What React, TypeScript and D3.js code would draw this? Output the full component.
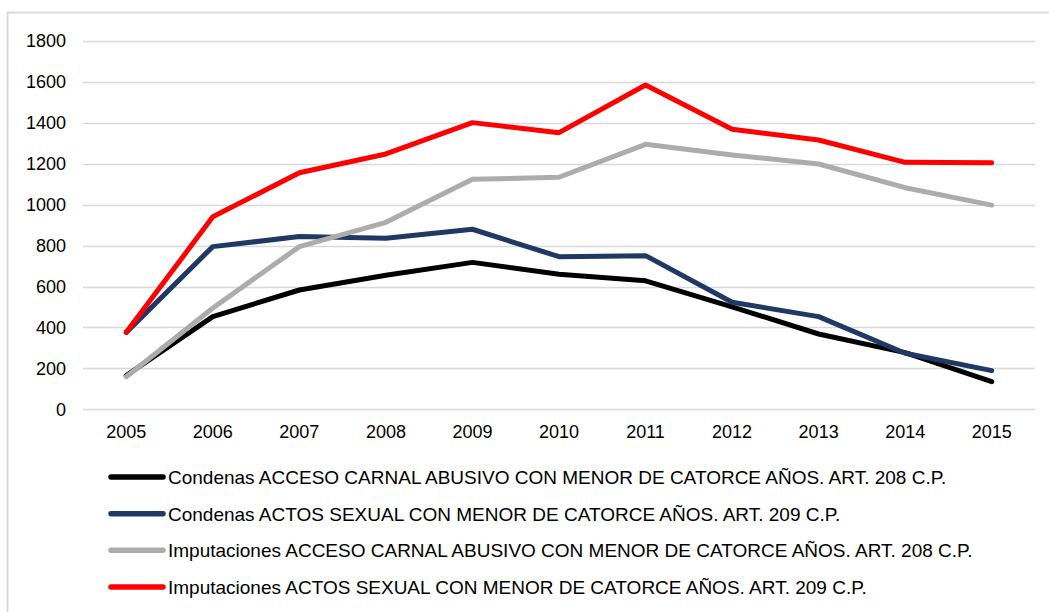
import React, { useEffect, useRef } from 'react';
import * as d3 from 'd3';

const years = ['2005', '2006', '2007', '2008', '2009', '2010', '2011', '2012', '2013', '2014', '2015'];
const yTicks = [0, 200, 400, 600, 800, 1000, 1200, 1400, 1600, 1800];

const condenas208 = [165, 453, 583, 655, 718, 660, 628, 501, 368, 277, 135];
const condenas209 = [376, 795, 844, 836, 880, 746, 751, 523, 453, 274, 189];
const imputaciones208 = [159, 495, 795, 914, 1124, 1134, 1295, 1243, 1199, 1083, 998];
const imputaciones209 = [376, 941, 1156, 1248, 1401, 1352, 1585, 1369, 1316, 1207, 1205];

const seriesNames = [
  'Condenas ACCESO CARNAL ABUSIVO CON MENOR DE CATORCE AÑOS. ART. 208 C.P.',
  'Condenas ACTOS SEXUAL CON MENOR DE CATORCE AÑOS. ART. 209 C.P.',
  'Imputaciones ACCESO CARNAL ABUSIVO CON MENOR DE CATORCE AÑOS. ART. 208 C.P.',
  'Imputaciones ACTOS SEXUAL CON MENOR DE CATORCE AÑOS. ART. 209 C.P.',
];
const seriesColors = ['#000000', '#203864', '#aeabab', '#ff0000'];

export default function App() {
  const ref = useRef<SVGSVGElement>(null);

  useEffect(() => {
    const svg = d3.select(ref.current);
    svg.selectAll('*').remove();
    const width = 1049;
    const height = 612;
    const font = '"Liberation Sans", Arial, sans-serif';

    // chart frame (runs off the right and bottom edge)
    svg
      .append('rect')
      .attr('x', 7.5)
      .attr('y', 12.5)
      .attr('width', width)
      .attr('height', height)
      .attr('fill', 'none')
      .attr('stroke', '#d9d9d9')
      .attr('stroke-width', 2);

    const x = d3.scaleBand().domain(years).range([83, 1035]);
    const y = d3.scaleLinear().domain([0, 1800]).range([409.3, 41]);

    // gridlines
    svg
      .append('g')
      .selectAll('line')
      .data(yTicks)
      .join('line')
      .attr('x1', 83)
      .attr('x2', 1035)
      .attr('y1', (d) => Math.round(y(d)) + 0.5)
      .attr('y2', (d) => Math.round(y(d)) + 0.5)
      .attr('stroke', '#d9d9d9')
      .attr('stroke-width', 1.5);

    // y labels
    svg
      .append('g')
      .selectAll('text')
      .data(yTicks)
      .join('text')
      .attr('x', 66)
      .attr('y', (d) => y(d))
      .attr('dy', '0.36em')
      .attr('text-anchor', 'end')
      .attr('font-family', font)
      .attr('font-size', 18)
      .attr('fill', '#000')
      .text((d) => d);

    // x labels
    svg
      .append('g')
      .selectAll('text')
      .data(years)
      .join('text')
      .attr('x', (d) => x(d)! + x.bandwidth() / 2)
      .attr('y', 432)
      .attr('dy', '0.36em')
      .attr('text-anchor', 'middle')
      .attr('font-family', font)
      .attr('font-size', 18)
      .attr('fill', '#000')
      .text((d) => d);

    const allSeries = [condenas208, condenas209, imputaciones208, imputaciones209];
    const line = d3
      .line<number>()
      .x((_, i) => x(years[i])! + x.bandwidth() / 2)
      .y((d) => y(d));

    allSeries.forEach((vals, i) => {
      svg
        .append('path')
        .datum(vals)
        .attr('fill', 'none')
        .attr('stroke', seriesColors[i])
        .attr('stroke-width', 5)
        .attr('stroke-linejoin', 'round')
        .attr('stroke-linecap', 'round')
        .attr('d', line);
    });

    // legend
    const legendY = d3.scalePoint<number>().domain([0, 1, 2, 3]).range([477, 587]);
    const lg = svg
      .append('g')
      .selectAll('g')
      .data(seriesNames)
      .join('g')
      .attr('transform', (_, i) => `translate(0,${legendY(i)})`);
    lg.append('line')
      .attr('x1', 111)
      .attr('x2', 163)
      .attr('stroke', (_, i) => seriesColors[i])
      .attr('stroke-width', 5.5)
      .attr('stroke-linecap', 'round');
    lg.append('text')
      .attr('x', 168)
      .attr('dy', '0.36em')
      .attr('font-family', font)
      .attr('font-size', 19)
      .attr('fill', '#000')
      .text((d) => d);
  }, []);

  return (
    <svg
      ref={ref}
      width={1049}
      height={612}
      style={{ position: 'absolute', left: 0, top: 0, background: '#fff' }}
    ></svg>
  );
}
